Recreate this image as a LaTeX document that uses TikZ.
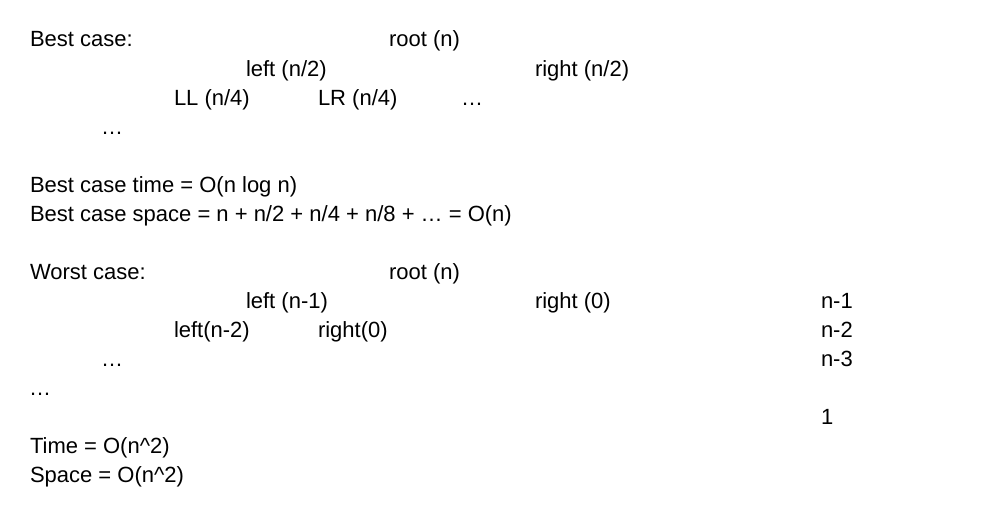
\documentclass[tikz,border=0pt]{standalone}
\usepackage{fontspec}
\setmainfont{Liberation Sans}
\begin{document}
\begin{tikzpicture}[x=1pt,y=-1pt,
  txt/.style={anchor=base west,inner sep=0pt,outer sep=0pt,font=\fontsize{22}{26}\selectfont,text=black}]
\fill[white] (0,0) rectangle (984,519);
\useasboundingbox (0,0) rectangle (984,519);
\def\ln#1{47+29.05*#1}
\node[txt] (bc) at (30,{\ln{0}}) {Best case:};
\node[txt] (broot) at (389,{\ln{0}}) {root (n)};
\node[txt] (bleft) at (246,{\ln{1}}) {left (n/2)};
\node[txt] (bright) at (535,{\ln{1}}) {right (n/2)};
\node[txt] (bll) at (174,{\ln{2}}) {LL (n/4)};
\node[txt] (blr) at (318,{\ln{2}}) {LR (n/4)};
\node[txt] (bdots1) at (461,{\ln{2}}) {…};
\node[txt] (bdots2) at (101,{\ln{3}}) {…};
\node[txt] (btime) at (30,{\ln{5}}) {Best case time = O(n log n)};
\node[txt] (bspace) at (30,{\ln{6}}) {Best case space = n + n/2 + n/4 + n/8 + … = O(n)};
\node[txt] (wc) at (30,{\ln{8}}) {Worst case:};
\node[txt] (wroot) at (389,{\ln{8}}) {root (n)};
\node[txt] (wleft) at (246,{\ln{9}}) {left (n-1)};
\node[txt] (wright) at (535,{\ln{9}}) {right (0)};
\node[txt] (n1) at (821,{\ln{9}}) {n-1};
\node[txt] (wll) at (174,{\ln{10}}) {left(n-2)};
\node[txt] (wlr) at (318,{\ln{10}}) {right(0)};
\node[txt] (n2) at (821,{\ln{10}}) {n-2};
\node[txt] (wdots1) at (101,{\ln{11}}) {…};
\node[txt] (n3) at (821,{\ln{11}}) {n-3};
\node[txt] (wdots2) at (29,{\ln{12}}) {…};
\node[txt] (one) at (821,{\ln{13}}) {1};
\node[txt] (wtime) at (30,{\ln{14}}) {Time = O(n\^{}2)};
\node[txt] (wspace) at (30,{\ln{15}}) {Space = O(n\^{}2)};
\end{tikzpicture}
\end{document}
